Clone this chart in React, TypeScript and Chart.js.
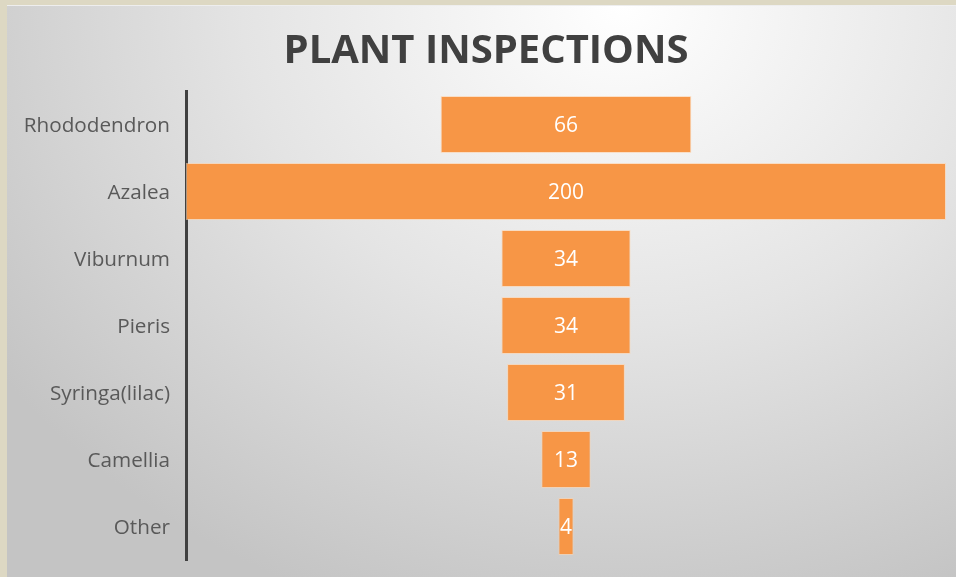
import React, { useEffect, useRef } from "react";
import { Chart, registerables } from "chart.js";

Chart.register(...registerables);

const categories = ["Rhododendron", "Azalea", "Viburnum", "Pieris", "Syringa(lilac)", "Camellia", "Other"];
const inspections = [66, 200, 34, 34, 31, 13, 4];
const chartTitle = "PLANT INSPECTIONS";

const FONT = "'Open Sans', 'DejaVu Sans', sans-serif";

const titlePlugin = {
  id: "customTitle",
  afterDraw(chart: any) {
    const ctx = chart.ctx;
    ctx.save();
    ctx.font = `bold 40px ${FONT}`;
    ctx.fillStyle = "#404040";
    ctx.textAlign = "center";
    ctx.textBaseline = "alphabetic";
    ctx.fillText(chartTitle, 479, 57);
    ctx.restore();
  },
};

const valueLabelPlugin = {
  id: "valueLabels",
  afterDatasetsDraw(chart: any) {
    const ctx = chart.ctx;
    const meta = chart.getDatasetMeta(0);
    ctx.save();
    ctx.font = `21px ${FONT}`;
    ctx.fillStyle = "#ffffff";
    ctx.textAlign = "center";
    ctx.textBaseline = "middle";
    meta.data.forEach((bar: any, i: number) => {
      const x = (bar.x + bar.base) / 2;
      ctx.fillText(String(inspections[i]), x, bar.y + 1.5);
    });
    ctx.restore();
  },
};

export default function App() {
  const ref = useRef<HTMLCanvasElement | null>(null);
  useEffect(() => {
    if (!ref.current) return;
    const chart = new Chart(ref.current, {
      type: "bar",
      data: {
        labels: categories,
        datasets: [
          {
            data: inspections.map((v) => [-v / 2, v / 2]) as any,
            backgroundColor: "#F79646",
            borderColor: "rgba(255,210,170,0.6)",
            borderWidth: 1,
            borderSkipped: false,
            barPercentage: 0.85,
            categoryPercentage: 1,
          },
        ],
      },
      options: {
        indexAxis: "y",
        animation: false,
        responsive: false,
        maintainAspectRatio: false,
        layout: { padding: { top: 85, bottom: 17, right: 10, left: 0 } },
        plugins: { legend: { display: false }, tooltip: { enabled: false }, title: { display: false } },
        scales: {
          x: { min: -100, max: 100, display: false },
          y: {
            grid: { display: false, drawTicks: false },
            border: { display: true, color: "#404040", width: 3 },
            ticks: { color: "#595959", font: { family: FONT, size: 20.7 }, padding: 16, labelOffset: 2 },
            afterFit(scale: any) {
              scale.width = 179;
              scale.paddingTop = 0;
              scale.paddingBottom = 0;
            },
          },
        },
      },
      plugins: [titlePlugin, valueLabelPlugin],
    });
    return () => chart.destroy();
  }, []);

  return (
    <div style={{ position: "fixed", left: 0, top: 0, width: 956, height: 577, background: "#DDD8C3", overflow: "hidden" }}>
      <div
        style={{
          position: "absolute",
          left: 7,
          top: 5,
          width: 949,
          height: 572,
          borderTop: "1px solid #eeeeee",
          boxSizing: "border-box",
          background: "radial-gradient(ellipse 760px 640px at 615px 0px, #ffffff 0%, #e4e4e4 50%, #c4c4c4 100%)",
        }}
      >
        <canvas ref={ref} width={949} height={571} style={{ display: "block", width: 949, height: 571 }} />
      </div>
    </div>
  );
}
